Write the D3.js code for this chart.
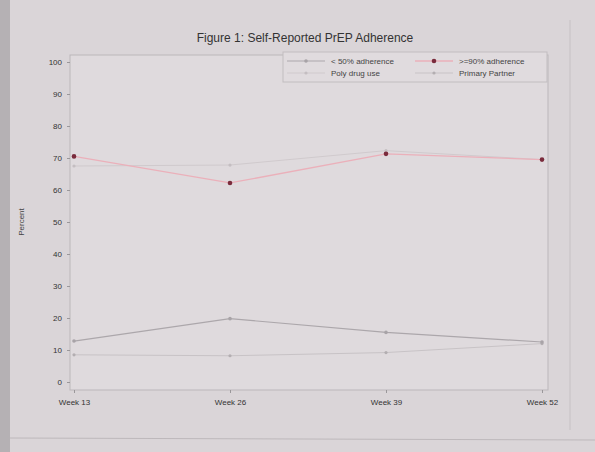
<!DOCTYPE html>
<html>
<head>
<meta charset="utf-8">
<script src="https://cdn.jsdelivr.net/npm/d3@7"></script>
<style>
  body { margin: 0; background: #d9d4d7; }
  svg { display: block; font-family: "Liberation Sans", Arial, sans-serif; }
  .axis path, .axis line { stroke: #9a979a; }
  .axis text { fill: #333; font-size: 8px; }
</style>
</head>
<body>
<svg width="595" height="452"></svg>
<script>
const weeks = ["Week 13", "Week 26", "Week 39", "Week 52"];
const yTicks = [0, 10, 20, 30, 40, 50, 60, 70, 80, 90, 100];

const below50 = [12.8, 19.8, 15.5, 12.5];
const above90 = [70.5, 62.2, 71.3, 69.5];
const polyDrug = [67.5, 67.8, 72.3, 69.5];
const primaryPartner = [8.5, 8.2, 9.2, 12.0];

const series = [
  {name: "< 50% adherence", values: below50, color: "#aca7ab", width: 1.2, dot: "#a8a3a7", r: 1.8},
  {name: ">=90% adherence", values: above90, color: "#ebb0ba", width: 1.3, dot: "#7a2b3c", r: 2.3},
  {name: "Poly drug use", values: polyDrug, color: "#d0cacd", width: 1, dot: "#c4bec1", r: 1.6},
  {name: "Primary Partner", values: primaryPartner, color: "#c8c3c6", width: 1, dot: "#b3aeb1", r: 1.6}
];

const svg = d3.select("svg");
const margin = {top: 55, right: 47, bottom: 62, left: 70};
const width = 595 - margin.left - margin.right,
    height = 452 - margin.top - margin.bottom;

// paper
svg.append("rect").attr("width", 595).attr("height", 452).attr("fill", "#dad5d8");
svg.append("rect").attr("width", 10).attr("height", 452).attr("fill", "#b5b1b4");
svg.append("line").attr("x1", 10).attr("x2", 595).attr("y1", 438).attr("y2", 440)
    .attr("stroke", "#bdb8bb");
svg.append("line").attr("x1", 570).attr("x2", 570).attr("y1", 20).attr("y2", 430)
    .attr("stroke", "#c6c1c4");

const x = d3.scalePoint().domain(weeks).range([4, width - 6]);
const y = d3.scaleLinear().domain([0, 100]).range([height - 8, 7]);

const g = svg.append("g").attr("transform", `translate(${margin.left},${margin.top})`);

g.append("rect").attr("width", width).attr("height", height)
    .attr("fill", "#dfdadd").attr("stroke", "#bbb7ba");

g.append("g").attr("class", "axis")
    .call(d3.axisLeft(y).tickValues(yTicks).tickSize(3))
    .call(a => a.select(".domain").remove())
    .selectAll("text").attr("dx", "-2");

g.append("g").attr("class", "axis")
    .attr("transform", `translate(0,${height})`)
    .call(d3.axisBottom(x).tickSize(3))
    .call(a => a.select(".domain").remove())
    .selectAll("text").attr("dy", "1.1em");

g.append("text")
    .attr("transform", "rotate(-90)")
    .attr("x", -y(50)).attr("y", -46)
    .attr("text-anchor", "middle")
    .attr("font-size", 8).attr("fill", "#444")
    .text("Percent");

svg.append("text")
    .attr("x", 305).attr("y", 42)
    .attr("text-anchor", "middle")
    .attr("font-size", 12).attr("fill", "#333")
    .text("Figure 1: Self-Reported PrEP Adherence");

const line = d3.line().x((d, i) => x(weeks[i])).y(d => y(d));

// lighter series first, red on top
[2, 3, 0, 1].forEach(k => {
  const s = series[k];
  g.append("path").datum(s.values)
      .attr("fill", "none").attr("stroke", s.color).attr("stroke-width", s.width)
      .attr("d", line);
  g.selectAll(null).data(s.values).enter().append("circle")
      .attr("cx", (d, i) => x(weeks[i])).attr("cy", d => y(d))
      .attr("r", s.r).attr("fill", s.dot);
});

// legend
const lg = svg.append("g").attr("transform", "translate(283,52)");
lg.append("rect").attr("width", 264).attr("height", 30)
    .attr("fill", "#e0dbde").attr("stroke", "#c2bdc0");
series.forEach((s, i) => {
  const col = i % 2, row = Math.floor(i / 2);
  const lx = 4 + col * 128, ly = 9 + row * 12;
  lg.append("line").attr("x1", lx).attr("x2", lx + 38).attr("y1", ly).attr("y2", ly)
      .attr("stroke", s.color).attr("stroke-width", s.width);
  lg.append("circle").attr("cx", lx + 19).attr("cy", ly).attr("r", s.r).attr("fill", s.dot);
  lg.append("text").attr("x", lx + 44).attr("y", ly + 3)
      .attr("font-size", 8).attr("fill", "#444").text(s.name);
});
</script>
</body>
</html>
